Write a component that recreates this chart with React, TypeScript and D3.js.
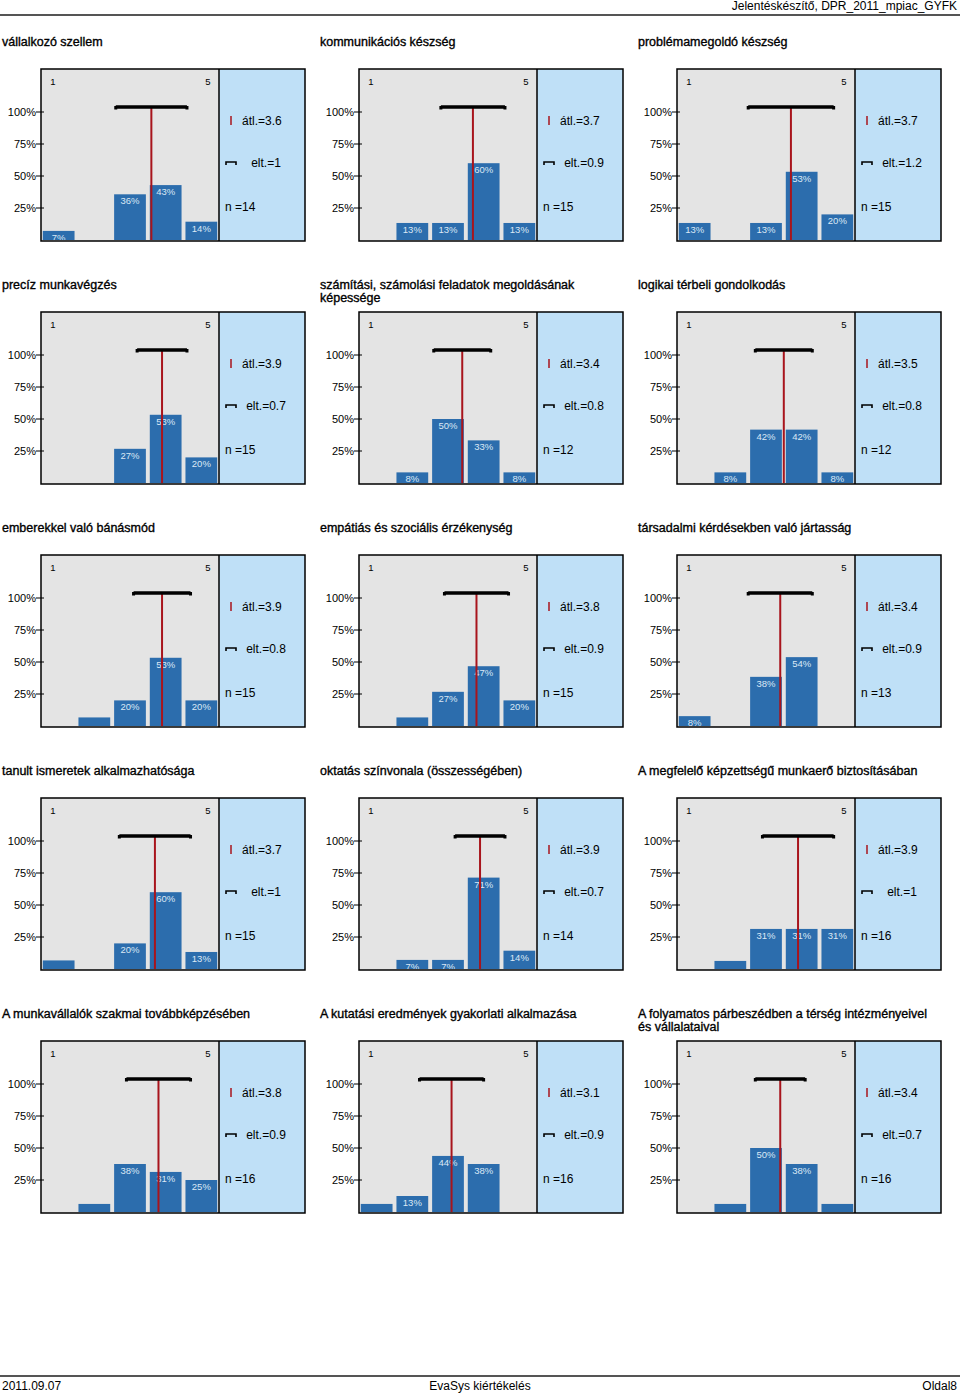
import React from "react";
import * as d3 from "d3";

const titles: string[][] = [
  ["vállalkozó szellem"],
  ["kommunikációs készség"],
  ["problémamegoldó készség"],
  ["precíz munkavégzés"],
  ["számítási, számolási feladatok megoldásának", "képessége"],
  ["logikai térbeli gondolkodás"],
  ["emberekkel való bánásmód"],
  ["empátiás és szociális érzékenység"],
  ["társadalmi kérdésekben való jártasság"],
  ["tanult ismeretek alkalmazhatósága"],
  ["oktatás színvonala (összességében)"],
  ["A megfelelő képzettségű munkaerő biztosításában"],
  ["A munkavállalók szakmai továbbképzésében"],
  ["A kutatási eredmények gyakorlati alkalmazása"],
  ["A folyamatos párbeszédben a térség intézményeivel", "és vállalataival"],
];

// percentages for answer values 1..5
const distributions: number[][] = [
  [7.1, 0, 35.7, 42.9, 14.3],
  [0, 13.3, 13.3, 60, 13.3],
  [13.3, 0, 13.3, 53.3, 20],
  [0, 0, 26.7, 53.3, 20],
  [0, 8.3, 50, 33.3, 8.3],
  [0, 8.3, 41.7, 41.7, 8.3],
  [0, 6.7, 20, 53.3, 20],
  [0, 6.7, 26.7, 46.7, 20],
  [7.7, 0, 38.4, 53.8, 0],
  [6.7, 0, 20, 60, 13.3],
  [0, 7.1, 7.1, 71.4, 14.3],
  [0, 6.3, 31.3, 31.3, 31.3],
  [0, 6.3, 37.5, 31.3, 25],
  [6.3, 12.5, 43.8, 37.5, 0],
  [0, 6.3, 50, 37.5, 6.3],
];

const means: number[] = [3.6, 3.7, 3.7, 3.9, 3.4, 3.5, 3.9, 3.8, 3.4, 3.7, 3.9, 3.9, 3.8, 3.1, 3.4];
const stdevs: string[] = ["1", "0.9", "1.2", "0.7", "0.8", "0.8", "0.8", "0.9", "0.9", "1", "0.7", "1", "0.9", "0.9", "0.7"];
const counts: number[] = [14, 15, 15, 15, 12, 12, 15, 15, 13, 15, 14, 16, 16, 16, 16];

const answerValues = [1, 2, 3, 4, 5];
const yTicks = [25, 50, 75, 100];

const FONT = "'Liberation Sans', Arial, Helvetica, sans-serif";
const BAR = "#2c6dad";
const GREY = "#e4e4e4";
const BLUE = "#bfe0f7";
const RED = "#a8141c";

const colX = [41, 359, 677];
const rowY = [69, 312, 555, 798, 1041];

function Panel({ idx }: { idx: number }) {
  const fx = colX[idx % 3];
  const fy = rowY[Math.floor(idx / 3)];
  const gw = 178;
  const bw = 86;
  const fh = 172;
  const x = d3.scaleBand<number>().domain(answerValues).range([fx, fx + gw]).paddingInner(0.11).paddingOuter(0.05);
  const xv = d3.scaleLinear().domain([0.5, 5.5]).range([fx, fx + gw]);
  const y = d3.scaleLinear().domain([0, 100]).range([fy + 171, fy + 43]);
  const dist = distributions[idx];
  const m = means[idx];
  const sd = parseFloat(stdevs[idx]);
  const by = fy + 38;
  const x1 = xv(m - sd);
  const x2 = xv(m + sd);
  const title = titles[idx];
  return (
    <g>
      {title.map((t, i) => (
        <text key={i} x={fx - 39} y={fy - 23 + i * 13} fontSize={12.5} fontFamily={FONT} fill="#000" stroke="#000" strokeWidth={0.35}>
          {t}
        </text>
      ))}
      <rect x={fx} y={fy} width={gw} height={fh} fill={GREY} />
      <rect x={fx + gw} y={fy} width={bw} height={fh} fill={BLUE} />
      <text x={fx + 12} y={fy + 16} fontSize={9.5} fontFamily={FONT} textAnchor="middle">1</text>
      <text x={fx + 167} y={fy + 16} fontSize={9.5} fontFamily={FONT} textAnchor="middle">5</text>
      {dist.map((v, i) =>
        v > 0 ? (
          <g key={i}>
            <rect x={x(answerValues[i])!} y={y(v)} width={x.bandwidth()} height={y(0) - y(v)} fill={BAR} />
            {v >= 7 && (
              <text x={x(answerValues[i])! + x.bandwidth() / 2} y={y(v) + 10} fontSize={9.5} fontFamily={FONT} fill="#dbe8f5" textAnchor="middle">
                {Math.round(v)}%
              </text>
            )}
          </g>
        ) : null
      )}
      {yTicks.map((t) => (
        <g key={t}>
          <line x1={fx - 5} x2={fx + 3} y1={y(t)} y2={y(t)} stroke="#000" strokeWidth={1} />
          <text x={fx - 5} y={y(t) + 4} fontSize={11} fontFamily={FONT} textAnchor="end">{t}%</text>
        </g>
      ))}
      <line x1={xv(m)} x2={xv(m)} y1={by} y2={y(0)} stroke={RED} strokeWidth={2} />
      <line x1={x1} x2={x2} y1={by} y2={by} stroke="#000" strokeWidth={3.5} />
      <rect x={x1 - 1.5} y={by - 1} width={3} height={3.5} fill="#000" />
      <rect x={x2 - 1.5} y={by - 1} width={3} height={3.5} fill="#000" />
      <rect x={fx} y={fy} width={gw + bw} height={fh} fill="none" stroke="#000" strokeWidth={1.5} />
      <line x1={fx + gw} x2={fx + gw} y1={fy} y2={fy + fh} stroke="#000" strokeWidth={1.5} />
      {/* legend */}
      <line x1={fx + 190} x2={fx + 190} y1={fy + 47} y2={fy + 56} stroke={RED} strokeWidth={1.5} />
      <text x={fx + 201} y={fy + 56} fontSize={12} fontFamily={FONT}>átl.={m}</text>
      <path d={`M${fx + 185},${fy + 96} L${fx + 185},${fy + 93} L${fx + 195},${fy + 93} L${fx + 195},${fy + 96}`} fill="none" stroke="#000" strokeWidth={1.6} />
      <text x={fx + 225} y={fy + 98} fontSize={12} fontFamily={FONT} textAnchor="middle">elt.={stdevs[idx]}</text>
      <text x={fx + 184} y={fy + 142} fontSize={12} fontFamily={FONT}>n ={counts[idx]}</text>
    </g>
  );
}

export default function App() {
  return (
    <svg width={960} height={1395} style={{ position: "absolute", left: 0, top: 0, background: "#fff" }}>
      <rect x={0} y={0} width={960} height={1395} fill="#fff" />
      <text x={957} y={10} fontSize={12} fontFamily={FONT} textAnchor="end">Jelentéskészítő, DPR_2011_mpiac_GYFK</text>
      <line x1={0} x2={960} y1={15} y2={15} stroke="#555" strokeWidth={2} />
      {titles.map((_, i) => (
        <Panel key={i} idx={i} />
      ))}
      <line x1={0} x2={960} y1={1376} y2={1376} stroke="#555" strokeWidth={2} />
      <text x={2} y={1390} fontSize={12} fontFamily={FONT}>2011.09.07</text>
      <text x={480} y={1390} fontSize={12} fontFamily={FONT} textAnchor="middle">EvaSys kiértékelés</text>
      <text x={957} y={1390} fontSize={12} fontFamily={FONT} textAnchor="end">Oldal8</text>
    </svg>
  );
}
